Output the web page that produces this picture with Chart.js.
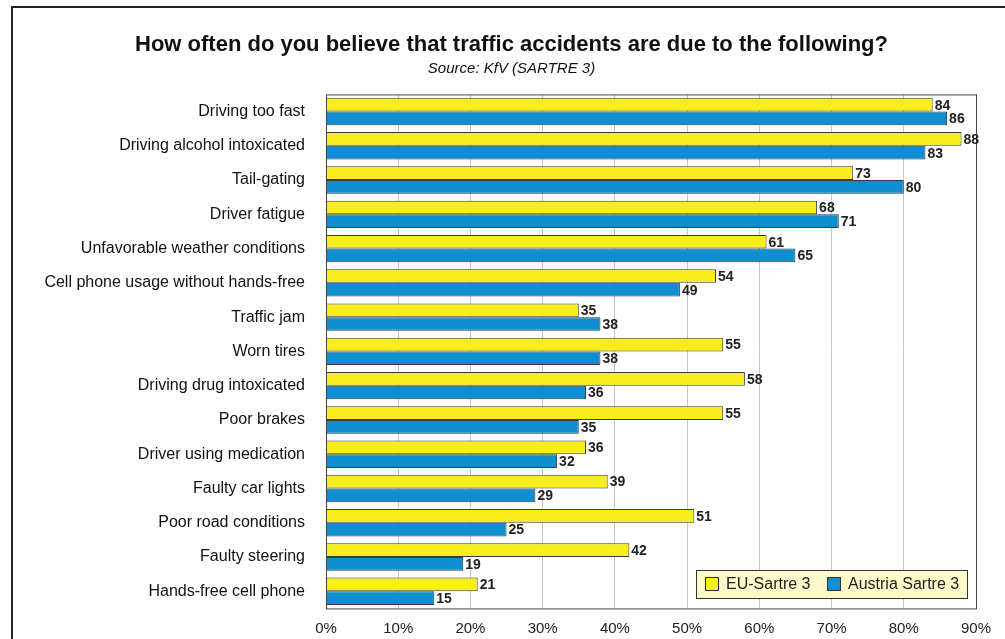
<!DOCTYPE html>
<html>
<head>
<meta charset="utf-8">
<script src="https://cdn.jsdelivr.net/npm/chart.js@4/dist/chart.umd.min.js"></script>
<style>
    html, body { margin: 0; padding: 0; background: #fff; }
    #wrap { width: 1005px; height: 639px; position: relative; }
</style>
</head>
<body>
<div id="wrap"><canvas id="chart"></canvas></div>
<script>
// Chart data
const categories = [
    'Driving too fast', 'Driving alcohol intoxicated', 'Tail-gating', 'Driver fatigue',
    'Unfavorable weather conditions', 'Cell phone usage without hands-free', 'Traffic jam',
    'Worn tires', 'Driving drug intoxicated', 'Poor brakes', 'Driver using medication',
    'Faulty car lights', 'Poor road conditions', 'Faulty steering', 'Hands-free cell phone'
];
const euValues = [84, 88, 73, 68, 61, 54, 35, 55, 58, 55, 36, 39, 51, 42, 21];
const austriaValues = [86, 83, 80, 71, 65, 49, 38, 38, 36, 35, 32, 29, 25, 19, 15];
const seriesNames = ['EU-Sartre 3', 'Austria Sartre 3'];
const xTicks = [0, 10, 20, 30, 40, 50, 60, 70, 80, 90];

const FONT = 'Liberation Sans, Arial, sans-serif';
const YELLOW = '#f7ee1c';
const BLUE = '#0f8fd1';

// Outer frame, plot frame, value labels and legend box
const decorations = {
    id: 'decorations',
    afterLayout(chart) {
        // let the long category labels run past the left padding
        chart.scales.y.left = 14;
    },
    beforeDraw(chart) {
        const ctx = chart.ctx;
        ctx.save();
        ctx.fillStyle = '#fff';
        ctx.fillRect(0, 0, chart.width, chart.height);
        ctx.strokeStyle = '#222';
        ctx.lineWidth = 2;
        ctx.beginPath();
        ctx.moveTo(12, chart.height);
        ctx.lineTo(12, 7);
        ctx.lineTo(chart.width, 7);
        ctx.stroke();
        ctx.restore();
    },
    afterDatasetsDraw(chart) {
        const ctx = chart.ctx;
        const area = chart.chartArea;
        ctx.save();
        ctx.strokeStyle = '#444';
        ctx.lineWidth = 1;
        ctx.strokeRect(area.left + 0.5, area.top + 0.5, area.right - area.left, area.bottom - area.top);

        // value labels
        ctx.fillStyle = '#222';
        ctx.font = 'bold 14px ' + FONT;
        ctx.textBaseline = 'middle';
        ctx.textAlign = 'left';
        chart.data.datasets.forEach((ds, i) => {
            chart.getDatasetMeta(i).data.forEach((bar, j) => {
                ctx.fillText(ds.data[j], bar.x + 2, bar.y + 1);
            });
        });

        // legend
        const lx = 696, ly = 570, lw = 271, lh = 28;
        ctx.fillStyle = '#fdf9c9';
        ctx.fillRect(lx, ly, lw, lh);
        ctx.strokeStyle = '#333';
        ctx.strokeRect(lx + 0.5, ly + 0.5, lw, lh);
        const items = [
            { x: 705, color: YELLOW, text: seriesNames[0] },
            { x: 827, color: BLUE, text: seriesNames[1] }
        ];
        ctx.font = '16px ' + FONT;
        items.forEach(it => {
            ctx.fillStyle = it.color;
            ctx.fillRect(it.x + 0.5, ly + 7.5, 13, 13);
            ctx.strokeRect(it.x + 0.5, ly + 7.5, 13, 13);
            ctx.fillStyle = '#222';
            ctx.fillText(it.text, it.x + 21, ly + 15);
        });
        ctx.restore();
    }
};

new Chart(document.getElementById('chart'), {
    type: 'bar',
    data: {
        labels: categories,
        datasets: [
            {
                label: seriesNames[0],
                data: euValues,
                backgroundColor: YELLOW,
                borderColor: '#3a3a3a',
                borderWidth: 1,
                categoryPercentage: 0.8,
                barPercentage: 1.0
            },
            {
                label: seriesNames[1],
                data: austriaValues,
                backgroundColor: BLUE,
                borderColor: '#3a3a3a',
                borderWidth: 1,
                categoryPercentage: 0.8,
                barPercentage: 1.0
            }
        ]
    },
    options: {
        indexAxis: 'y',
        responsive: true,
        maintainAspectRatio: false,
        animation: false,
        layout: {
            padding: { left: 47, right: 29, top: 0, bottom: 0 }
        },
        plugins: {
            legend: { display: false },
            tooltip: { enabled: false },
            title: {
                display: true,
                text: 'How often do you believe that traffic accidents are due to the following?',
                color: '#111',
                font: { family: FONT, size: 22, weight: 'bold', lineHeight: 1.2 },
                padding: { top: 32, bottom: 0 }
            },
            subtitle: {
                display: true,
                text: 'Source: KfV (SARTRE 3)',
                color: '#111',
                font: { family: FONT, size: 15, style: 'italic', lineHeight: 1.2 },
                padding: { top: 1, bottom: 17 }
            }
        },
        scales: {
            x: {
                min: 0,
                max: 90,
                afterBuildTicks(scale) {
                    scale.ticks = xTicks.map(v => ({ value: v }));
                },
                afterFit(scale) {
                    scale.height = 28;
                },
                ticks: {
                    color: '#222',
                    font: { family: FONT, size: 15 },
                    padding: 11,
                    callback: v => v + '%'
                },
                grid: { color: '#c8c8c8', drawTicks: false },
                border: { display: false }
            },
            y: {
                afterFit(scale) {
                    scale.width = 279;
                },
                ticks: {
                    color: '#111',
                    font: { family: FONT, size: 16 },
                    padding: 21,
                    autoSkip: false
                },
                grid: { display: false, drawTicks: false },
                border: { display: false }
            }
        }
    },
    plugins: [decorations]
});
</script>
</body>
</html>
